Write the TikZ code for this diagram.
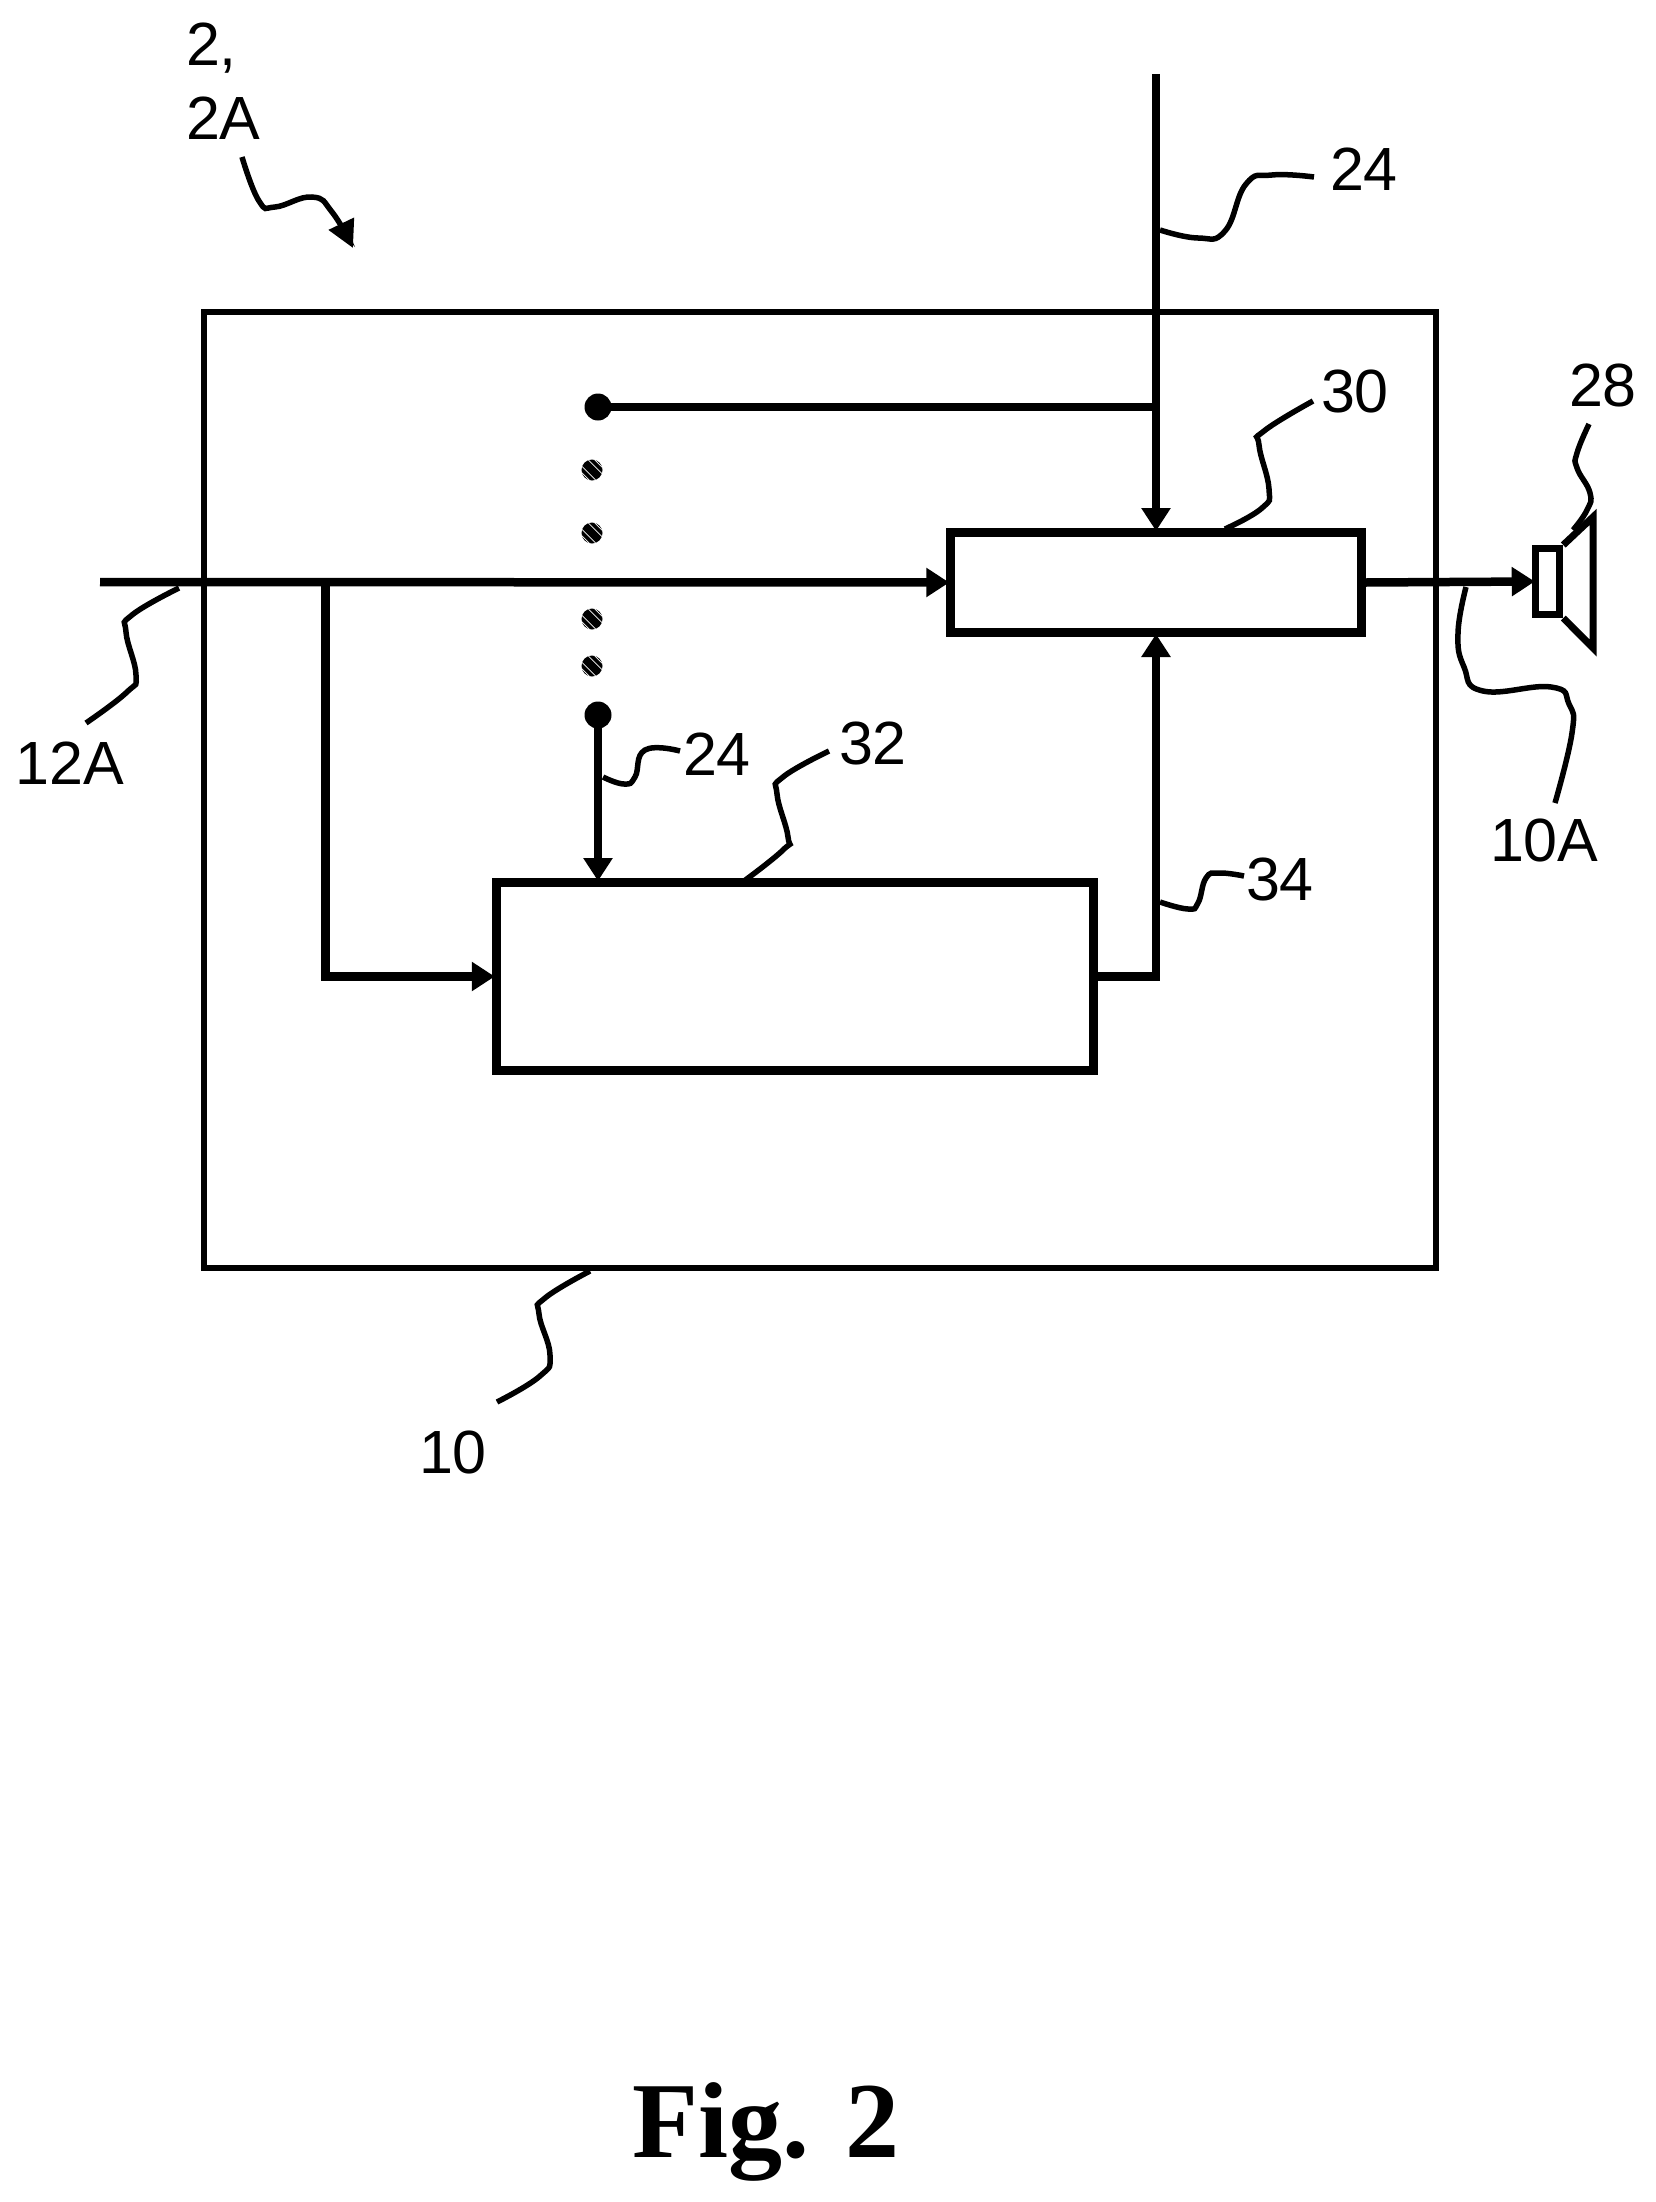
\documentclass[tikz,border=0pt]{standalone}
\usepackage{fontspec}
\setmainfont{Liberation Sans}
\newfontfamily\figfont{Liberation Serif}
\usetikzlibrary{arrows.meta}
\tikzset{
  x=1pt,y=-1pt,
  lab/.style={anchor=base west,inner sep=0pt,outer sep=0pt,font=\fontsize{61}{61}\selectfont},
  box/.style={draw,rectangle,line width=9pt,inner sep=0pt},
  wire/.style={line width=8.5pt},
  arr/.style={wire,shorten >=-3pt,-{Triangle[length=23pt,width=28pt]}},
  callout/.style={line width=5.5pt},
  squig/.style={smooth,tension=0.8},
  term/.style={circle,fill=black,inner sep=0pt,minimum size=27pt},
  gapdot/.style={circle,fill=black,inner sep=0pt,minimum size=21pt,
    path picture={\foreach \o in {-6.4,-3.2,3.2,6.4}{
      \draw[white,line width=0.7pt] (path picture bounding box.center) ++(\o-14,-\o-14) -- ++(28,28);}}},
}
\begin{document}
\begin{tikzpicture}
\useasboundingbox (0,0) rectangle (1655,2202);
% boxes
\node[draw,rectangle,line width=6pt,inner sep=0pt,minimum width=1232pt,minimum height=956pt] (device) at (820,790) {};
\node[box,minimum width=410.5pt,minimum height=100pt] (mixer) at (1156,582.5) {};
\node[box,minimum width=597.5pt,minimum height=188pt] (proc) at (795,976.5) {};
\node[draw,rectangle,line width=7pt,inner sep=0pt,minimum width=24.5pt,minimum height=66pt] (spk) at (1547.5,581.5) {};
\draw[line width=7pt,miter limit=10] (spk.north east) -- (1593,517) -- (1593,648) -- (spk.south east);
% terminals
\node[term] (t1) at (598,407) {};
\node[term] (t2) at (598,715) {};
\node[gapdot] (d1) at (592,470) {};
\node[gapdot] (d2) at (592,533) {};
\node[gapdot] (d3) at (592,619) {};
\node[gapdot] (d4) at (592,666) {};
% connectors
\coordinate (topin) at (1156,74);
\coordinate (leftin) at (100,582);
\coordinate (branch) at (325.5,582);
\coordinate (junction) at (1156,407);
\coordinate (outbend) at (1156,976.5);
\draw[arr] (topin) -- (mixer.north);
\draw[wire] (t1.center) -- (junction);
\draw[arr] (leftin) -- (mixer.west);
\draw[arr,line join=miter] (branch) |- (proc.west);
\draw[arr] (t2.center) -- (t2.center |- proc.north);
\draw[arr,line join=miter] (proc.east) -- (outbend) -- (mixer.south);
\draw[arr] (mixer.east) -- (spk.west);
% labels
\node[lab] (l2) at (186,66) {2,};
\node[lab] (l2a) at (186,140) {2A};
\node[lab] (l24a) at (1330,190) {24};
\node[lab] (l30) at (1321,412) {30};
\node[lab] (l28) at (1569,406) {28};
\node[lab] (l12a) at (16,784) {12A};
\node[lab] (l24b) at (683,775) {24};
\node[lab] (l32) at (839,764) {32};
\node[lab] (l34) at (1246,900) {34};
\node[lab] (l10a) at (1490,861) {10A};
\node[lab] (l10) at (419,1473) {10};
\node[anchor=base west,inner sep=0pt,font=\figfont\bfseries\fontsize{108}{108}\selectfont] (cap) at (632,2157) {Fig. 2};
% callouts
\draw[callout,-{Triangle[length=27pt,width=27pt]}] plot[squig] coordinates {(242,157) (259,201) (275,207) (312,197) (332,212) (353,248)};
\draw[callout] plot[squig] coordinates {(1160,230) (1198,238) (1225,231) (1246,184) (1272,175) (1314,177)};
\draw[callout] plot[squig] coordinates {(1313,401) (1264,431) (1259,445) (1269,489) (1262,508) (1225,529)};
\draw[callout] plot[squig] coordinates {(1589,424) (1577,453) (1577,468) (1590,493) (1587,510) (1573,530)};
\draw[callout] plot[squig] coordinates {(1466,587) (1458,633) (1464,667) (1483,691) (1551,687) (1569,704) (1572,733) (1555,803)};
\draw[callout] plot[squig] coordinates {(179,588) (132,615) (126,632) (136,675) (127,692) (86,723)};
\draw[callout] plot[squig] coordinates {(603,777) (624,784) (635,777) (645,750) (680,751)};
\draw[callout] plot[squig] coordinates {(740,884) (783,850) (788,837) (777,794) (783,777) (829,751)};
\draw[callout] plot[squig] coordinates {(1160,902) (1188,909) (1198,903) (1206,878) (1219,873) (1244,876)};
\draw[callout] plot[squig] coordinates {(590,1271) (545,1298) (539,1314) (550,1355) (540,1376) (497,1402)};
\end{tikzpicture}
\end{document}
